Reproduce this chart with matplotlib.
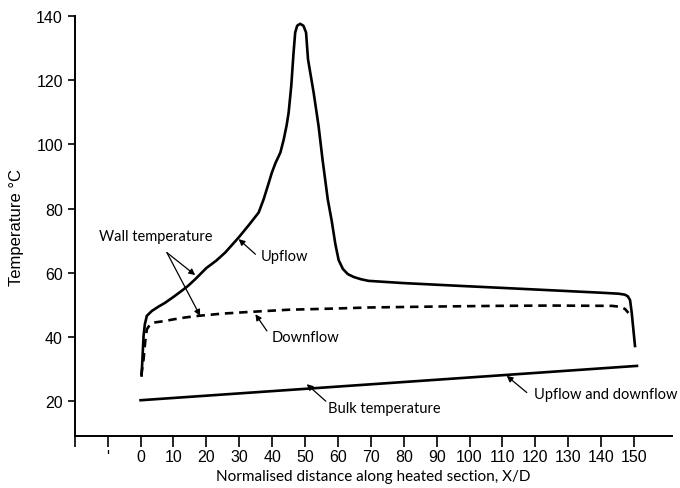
import numpy as np
import matplotlib
matplotlib.use("Agg")
import matplotlib.pyplot as plt

# wall temperature, upflow
up_x = [0.3, 0.6, 0.9, 1.3, 1.9, 3.4, 5.5, 7.5, 10, 12.5, 14.5, 16.6, 20, 23, 25.7,
        29.8, 33, 35.9, 37.4, 38.8, 39.9, 41, 42.5, 43.5, 44.4, 45, 45.8, 46.5, 47,
        47.6, 48.5, 49.5, 50.3, 50.9, 52.6, 54.1, 55.3, 56.9, 58.1, 59.2, 60.2,
        61.5, 63, 64.8, 67, 69.3, 80, 97.7, 110, 128.1, 140, 145.3, 147.2, 148.1,
        148.8, 149.3, 150.3]
up_y = [28, 34, 40.3, 44, 46.6, 48.1, 49.5, 50.7, 52.5, 54.4, 56, 58, 61.5, 63.8, 66.3,
        71, 75, 78.8, 82.9, 87.5, 91.2, 94.2, 97.5, 101.5, 106, 109.9, 118.2, 128.6,
        134.9, 137, 137.6, 137, 134.9, 126.5, 116.2, 105.8, 95.4, 82.9, 76.2, 69,
        64, 61.2, 59.6, 58.7, 58, 57.5, 56.8, 55.9, 55.3, 54.4, 53.8, 53.5, 53.2,
        52.7, 51.5, 47.6, 37.2]

# wall temperature, downflow
down_x = [0.2, 0.6, 0.9, 1.4, 1.9, 2.8, 4, 7.5, 10, 13.6, 17.6, 25, 32.8, 45, 60,
          69.3, 90, 107.8, 125, 143.3, 146, 147.3, 148.3]
down_y = [28, 31, 33, 38.5, 42.4, 43.8, 44.5, 45, 45.5, 46.1, 46.6, 47.3, 47.8, 48.5,
          48.9, 49.2, 49.5, 49.7, 49.8, 49.7, 49.4, 48.7, 47.5]

# bulk temperature, upflow and downflow
bulk_x = [0, 150.9]
bulk_y = [20.3, 31]

xticks = list(range(-20, 151, 10))
xlabels = ["", "'"] + [str(v) for v in range(0, 151, 10)]
yticks = [20, 40, 60, 80, 100, 120, 140]

fig = plt.figure(figsize=(6.8, 4.89), dpi=100)
ax = fig.add_axes([0.110, 0.106, 0.878, 0.859])

ax.plot(up_x, up_y, color="black", lw=1.9, solid_joinstyle="round")
ax.plot(down_x, down_y, color="black", lw=1.9, linestyle=(0, (3.2, 2.2)))
ax.plot(bulk_x, bulk_y, color="black", lw=1.9)

ax.set_xlim(-20, 161.5)
ax.set_ylim(9.1, 140)
ax.set_xticks(xticks)
ax.set_xticklabels(xlabels, fontsize=11.5, family="Liberation Sans")
ax.set_yticks(yticks)
ax.set_yticklabels([str(v) for v in yticks], fontsize=11.5, family="Liberation Sans")
ax.tick_params(axis="x", length=8, width=1.2, direction="out", pad=1.5)
ax.tick_params(axis="y", length=5, width=1.2, direction="out")
for s in ["top", "right"]:
    ax.spines[s].set_visible(False)
for s in ["left", "bottom"]:
    ax.spines[s].set_linewidth(1.4)

ax.set_xlabel("Normalised distance along heated section, X/D", fontsize=11, family="Lato", labelpad=3)
ax.set_ylabel("Temperature °C", fontsize=12, family="Liberation Sans", labelpad=9)

arr = dict(arrowstyle="-|>", color="black", lw=0.9, mutation_scale=9, shrinkA=0, shrinkB=0)
fnt = dict(fontsize=10.5, family="Lato")

ax.text(-12.5, 71.5, "Wall temperature", ha="left", va="center", **fnt)
ax.annotate("", xy=(16.6, 59.3), xytext=(8, 66.3), arrowprops=arr)
ax.annotate("", xy=(18.1, 46.6), xytext=(8, 66.3), arrowprops=arr)

ax.text(36.5, 65.2, "Upflow", ha="left", va="center", **fnt)
ax.annotate("", xy=(29.8, 70.5), xytext=(34.9, 65.8), arrowprops=arr)

ax.text(39.8, 40, "Downflow", ha="left", va="center", **fnt)
ax.annotate("", xy=(34.9, 47.1), xytext=(38.4, 41.9), arrowprops=arr)

ax.text(57.1, 17.8, "Bulk temperature", ha="left", va="center", **fnt)
ax.annotate("", xy=(50.5, 25.3), xytext=(56.3, 20), arrowprops=arr)

ax.text(119.5, 22.2, "Upflow and downflow", ha="left", va="center", **fnt)
ax.annotate("", xy=(111.3, 27.9), xytext=(117.4, 22.7), arrowprops=arr)

fig.savefig("out.png", dpi=100)
